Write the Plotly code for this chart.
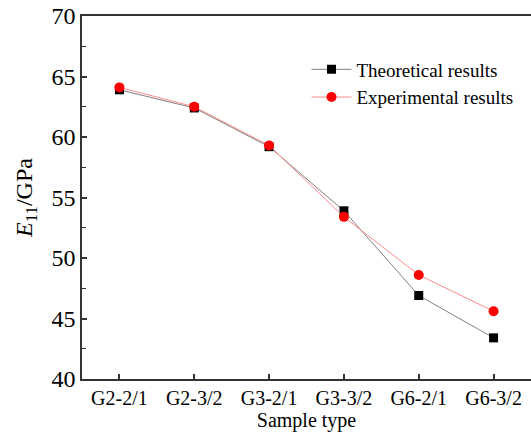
import plotly.graph_objects as go

categories = ["G2-2/1", "G2-3/2", "G3-2/1", "G3-3/2", "G6-2/1", "G6-3/2"]
theoretical = [63.9, 62.4, 59.2, 53.9, 46.9, 43.4]
experimental = [64.1, 62.5, 59.3, 53.4, 48.6, 45.6]

FONT = "Liberation Serif"

fig = go.Figure()
fig.add_trace(go.Scatter(
    x=categories, y=theoretical, mode="lines+markers", name="Theoretical results",
    line=dict(color="#808080", width=1),
    marker=dict(symbol="square", size=9, color="black"),
))
fig.add_trace(go.Scatter(
    x=categories, y=experimental, mode="lines+markers", name="Experimental results",
    line=dict(color="#ff8a8a", width=1),
    marker=dict(symbol="circle", size=10, color="red"),
))

fig.update_layout(
    width=531, height=434,
    margin=dict(l=82, r=0, t=16, b=55),
    paper_bgcolor="white", plot_bgcolor="white",
    font=dict(family=FONT, color="black"),
    showlegend=True,
    legend=dict(x=0.5, y=0.905, xanchor="left", yanchor="top",
                font=dict(size=19, family=FONT), bgcolor="rgba(0,0,0,0)",
                tracegroupgap=0, itemwidth=40),
)
fig.update_xaxes(
    type="category", range=[-0.5, 5.5],
    showline=True, linecolor="#333", linewidth=1.5, mirror=True,
    ticks="inside", ticklen=5, tickcolor="#333", tickwidth=1.5,
    showgrid=False, zeroline=False,
    tickfont=dict(size=20, family=FONT),
    title=dict(text="Sample type", font=dict(size=20, family=FONT), standoff=2),
)
fig.update_yaxes(
    range=[40, 70], dtick=5,
    showline=True, linecolor="#333", linewidth=1.5,
    ticks="inside", ticklen=5, tickcolor="#333", tickwidth=1.5,
    minor=dict(ticks="inside", ticklen=4, dtick=2.5, tickcolor="#333", tickwidth=1.2),
    showgrid=False, zeroline=False,
    tickfont=dict(size=24, family=FONT),
    title=dict(text="<i>E</i><sub>11</sub>/GPa", font=dict(size=24, family=FONT), standoff=12),
)

fig.write_html("out.html")
